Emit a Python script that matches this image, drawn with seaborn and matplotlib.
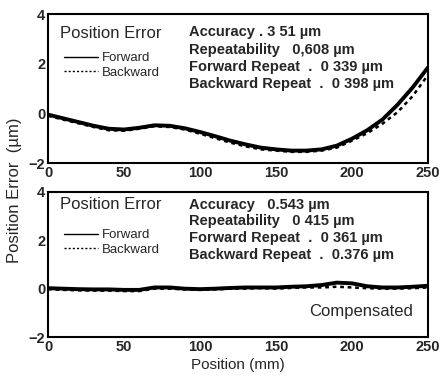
import pandas as pd
import seaborn as sns
import matplotlib.pyplot as plt
import numpy as np

# position (mm)
pos = [0, 10, 20, 30, 40, 50, 60, 70, 80, 90, 100, 110, 120, 130, 140, 150,
       160, 170, 180, 190, 200, 210, 220, 230, 240, 250]

# before compensation (um)
raw_fwd = [-0.05, -0.2, -0.35, -0.5, -0.62, -0.65, -0.58, -0.48, -0.5, -0.6, -0.75, -0.92,
           -1.1, -1.25, -1.38, -1.45, -1.5, -1.5, -1.45, -1.3, -1.02, -0.68, -0.25, 0.35, 1.05, 1.85]
raw_bwd = [-0.1, -0.25, -0.4, -0.55, -0.68, -0.7, -0.62, -0.52, -0.55, -0.65, -0.82, -1.0,
           -1.18, -1.33, -1.45, -1.5, -1.55, -1.55, -1.5, -1.38, -1.1, -0.8, -0.42, 0.05, 0.7, 1.55]

# after compensation (um)
cmp_fwd = [0.02, 0.0, -0.02, -0.03, -0.03, -0.05, -0.05, 0.05, 0.05, 0.0, -0.02, 0.0,
           0.03, 0.05, 0.05, 0.05, 0.08, 0.1, 0.15, 0.25, 0.22, 0.1, 0.05, 0.05, 0.08, 0.12]
cmp_bwd = [-0.02, -0.05, -0.07, -0.08, -0.08, -0.1, -0.1, 0.0, 0.0, -0.03, -0.05, -0.03,
           0.0, 0.0, 0.02, 0.0, 0.03, 0.05, 0.05, 0.08, 0.05, 0.02, 0.0, 0.0, 0.02, 0.05]

stats_raw = ["Accuracy . 3 51 \u00b5m", "Repeatability   0,608 \u00b5m",
             "Forward Repeat  .  0 339 \u00b5m", "Backward Repeat  .  0 398 \u00b5m"]
stats_cmp = ["Accuracy   0.543 \u00b5m", "Repeatability   0 415 \u00b5m",
             "Forward Repeat  .  0 361 \u00b5m", "Backward Repeat  .  0.376 \u00b5m"]

sns.set_style("white")
plt.rcParams['font.family'] = ['Liberation Sans', 'DejaVu Sans']

fig = plt.figure(figsize=(4.42, 3.8), dpi=100)
ax1 = fig.add_axes([0.1086, 0.571, 0.8597, 0.392])
ax2 = fig.add_axes([0.1086, 0.113, 0.8597, 0.382])

panels = [(ax1, raw_fwd, raw_bwd, stats_raw, [3.27, 2.55, 1.87, 1.18], 3.23),
          (ax2, cmp_fwd, cmp_bwd, stats_cmp, [3.46, 2.8, 2.1, 1.4], 3.46)]

for ax, fwd, bwd, stats, ys, ty in panels:
    df = pd.DataFrame({'pos': pos, 'Forward': fwd, 'Backward': bwd})
    sns.lineplot(data=df, x='pos', y='Forward', ax=ax, color='black', lw=2.8, label='Forward')
    sns.lineplot(data=df, x='pos', y='Backward', ax=ax, color='black', lw=1.8, ls=(0, (1.5, 1.5)),
                 label='Backward')
    ax.set_xlim(0, 250)
    ax.set_ylim(-2, 4)
    ax.set_xticks([0, 50, 100, 150, 200, 250])
    ax.set_yticks([-2, 0, 2, 4])
    ax.set_xlabel('')
    ax.set_ylabel('')
    ax.tick_params(direction='in', length=3, width=1.2, labelsize=10.5, pad=2)
    for t in ax.get_xticklabels() + ax.get_yticklabels():
        t.set_fontweight('bold')
    for s in ax.spines.values():
        s.set_linewidth(1.5)
        s.set_color('black')
    ax.text(8, ty, 'Position Error', fontsize=12, va='center')
    for s, y in zip(stats, ys):
        ax.text(93, y, s, fontsize=10.5, va='center', fontweight='bold')
    leg = ax.legend(loc='upper left', bbox_to_anchor=(0.025, 0.79), frameon=False, fontsize=9.5,
                    handlelength=2.6, handletextpad=0.3, labelspacing=0.2, borderpad=0)
    for h in leg.get_lines():
        h.set_linewidth(1.0)

ax2.text(240, -0.95, 'Compensated', fontsize=12, ha='right', va='center')
ax2.set_xlabel('Position (mm)', fontsize=11, labelpad=3)
fig.text(0.033, 0.5, 'Position Error  (\u00b5m)', rotation=90, fontsize=12, va='center', ha='center')

fig.savefig('out.png', dpi=100)
